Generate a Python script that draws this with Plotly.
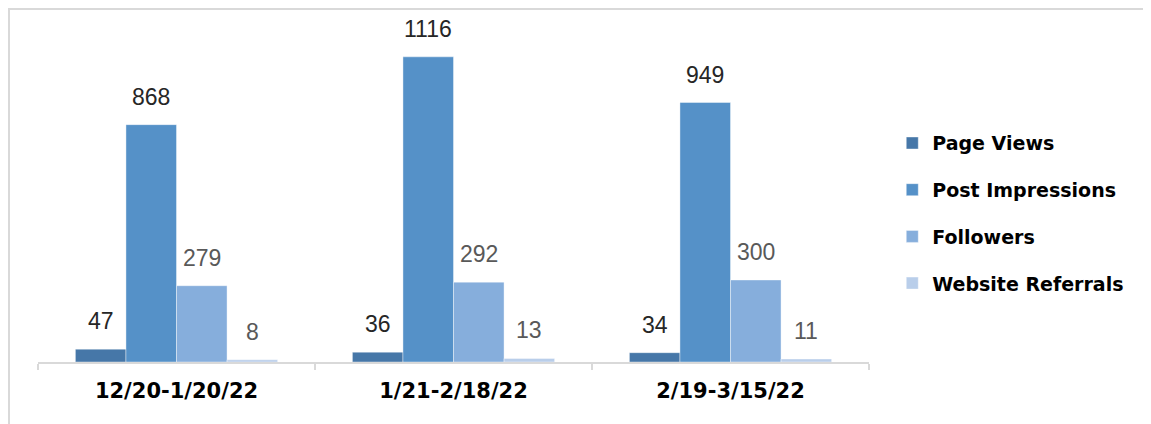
import plotly.graph_objects as go

categories = ["12/20-1/20/22", "1/21-2/18/22", "2/19-3/15/22"]
series_names = ["Page Views", "Post Impressions", "Followers", "Website Referrals"]
page_views = [47, 36, 34]
post_impressions = [868, 1116, 949]
followers = [279, 292, 300]
website_referrals = [8, 13, 11]

values = [page_views, post_impressions, followers, website_referrals]
colors = ["#4677A8", "#5591C8", "#86AEDC", "#B9CEEA"]
label_colors = ["#262626", "#262626", "#595959", "#595959"]

W, H = 1143, 416
ML, MR, MT, MB = 30, 282, 7, 62
BARGAP = 0.27
YMAX = 1269

fig = go.Figure()
for i, (name, vals) in enumerate(zip(series_names, values)):
    fig.add_trace(go.Bar(
        x=categories, y=vals, name=name,
        marker=dict(color=colors[i], line=dict(color="rgba(255,255,255,0.5)", width=0.8)),
        legendgroup=name,
    ))

plot_w = W - ML - MR
plot_h = H - MT - MB
bar_px = plot_w / len(categories) * (1 - BARGAP) / len(series_names)
for i, vals in enumerate(values):
    for j, v in enumerate(vals):
        fig.add_annotation(
            x=categories[j], y=v, xref="x", yref="y",
            text=str(v), showarrow=False,
            xshift=(i - (len(series_names) - 1) / 2) * bar_px,
            yanchor="bottom", yshift=13,
            font=dict(family="Liberation Sans", size=23, color=label_colors[i]),
        )

# outer chart border
fig.add_shape(type="rect", xref="paper", yref="paper",
              x0=(1 - ML) / plot_w, x1=(1140 - ML) / plot_w,
              y0=-(MB + 30) / plot_h, y1=1 + (MT - 1) / plot_h,
              line=dict(color="#D9D9D9", width=2), fillcolor="rgba(0,0,0,0)", layer="below")

fig.update_layout(
    width=W, height=H,
    margin=dict(l=ML, r=MR, t=MT, b=MB, autoexpand=False),
    paper_bgcolor="white", plot_bgcolor="white",
    barmode="group", bargap=BARGAP, bargroupgap=0,
    showlegend=True,
    legend=dict(
        x=1.028, xanchor="left", y=0.429, yanchor="middle",
        traceorder="grouped", tracegroupgap=19,
        font=dict(family="DejaVu Sans", size=19, color="#000000", weight="bold"),
        bgcolor="rgba(0,0,0,0)",
    ),
    xaxis=dict(
        showline=True, linecolor="#D9D9D9", linewidth=1.5,
        ticks="outside", tickson="boundaries", ticklen=6, tickcolor="#D9D9D9", tickwidth=1.5,
        tickfont=dict(family="DejaVu Sans", size=21, color="#000000", weight="bold"),
        ticklabelstandoff=9,
        showgrid=False, zeroline=False, fixedrange=True,
    ),
    yaxis=dict(
        range=[0, YMAX], visible=False, showgrid=False, zeroline=False, fixedrange=True,
    ),
)

fig.write_html("out.html")
